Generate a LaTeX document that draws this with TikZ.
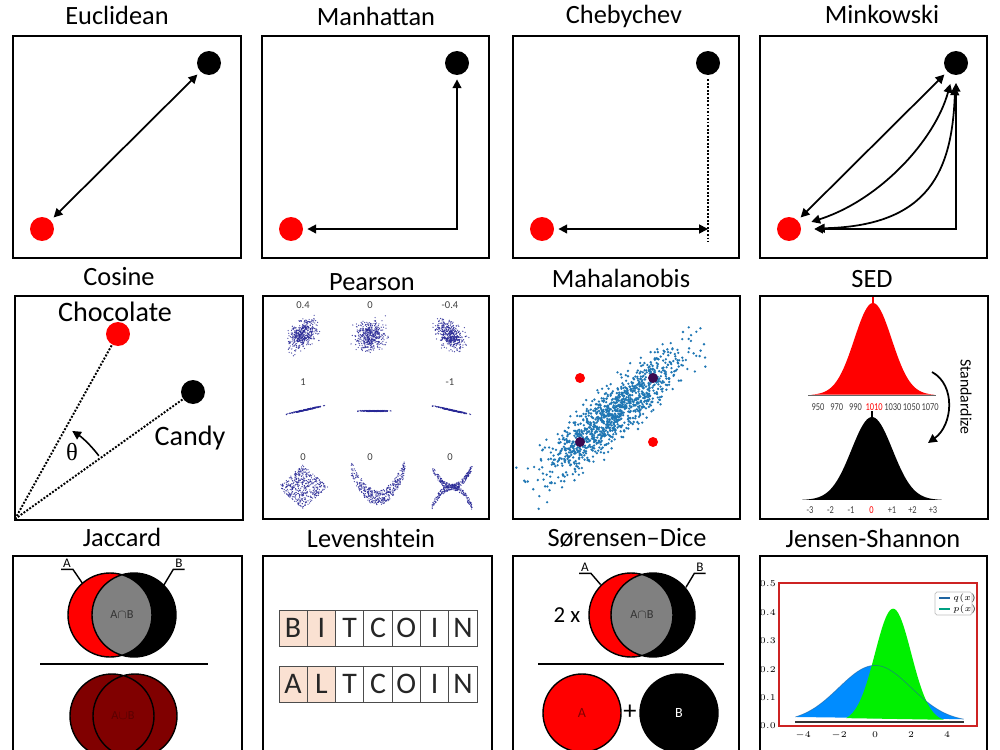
\documentclass[tikz,border=0pt]{standalone}
\usepackage{fontspec}
\setmainfont{Carlito}
\newfontfamily\thetafont{Liberation Serif}
\usetikzlibrary{arrows.meta}
\definecolor{mahablue}{RGB}{31,119,180}
\definecolor{mahapurple}{RGB}{60,10,80}
\definecolor{pearblue}{RGB}{40,40,150}
\definecolor{darkred}{RGB}{128,0,0}
\definecolor{peach}{RGB}{250,225,210}
\definecolor{jsblue}{RGB}{0,140,255}
\definecolor{jsgreen}{RGB}{0,240,0}
\definecolor{jsframe}{RGB}{205,35,35}
\definecolor{qline}{RGB}{31,100,160}
\definecolor{pline}{RGB}{0,160,130}

\begin{document}
\begin{tikzpicture}[x=0.02cm, y=-0.02cm,
    panel/.style={draw, line width=1.1pt},
    paneltitle/.style={font=\fontsize{15}{18}\selectfont, anchor=base},
    ptdot/.style={circle, inner sep=0pt, minimum size=0.48cm, outer sep=2.5pt},
    blackdot/.style={ptdot, fill=black},
    reddot/.style={ptdot, fill=red},
    mahadot/.style={circle, inner sep=0pt, minimum size=0.2cm},
    twoway/.style={line width=1pt, {Triangle[length=5pt,width=5pt]}-{Triangle[length=5pt,width=5pt]}},
    oneway/.style={line width=1pt, -{Triangle[length=5pt,width=5pt]}},
    dotline/.style={line width=1.1pt, dash pattern=on 1.1pt off 0.9pt},
    bigword/.style={font=\fontsize{16}{19}\selectfont},
    pearlabel/.style={font=\fontsize{6}{7}\selectfont, text=black!75},
    pearpt/.style={fill=pearblue, opacity=.85},
    sedtick/.style={font=\fontsize{6}{7}\selectfont, text=black!75, inner sep=0pt, xscale=.8},
    setlabel/.style={font=\fontsize{7.5}{9}\selectfont, inner sep=1pt},
    vennline/.style={line width=0.8pt},
    levcell/.style={draw=black!70, line width=0.5pt, minimum width=0.566cm, minimum height=0.72cm, inner sep=0pt, font=\fontsize{17}{20}\selectfont, text=black!85},
    jstick/.style={font=\fontsize{4}{5}\selectfont, inner sep=0.5pt}]

    \path[use as bounding box, fill=white] (0,0) rectangle (1000,750);
    \pgfmathsetseed{7}

    \draw[panel] (13,36) rectangle (241,258);
    \draw[panel] (262,36) rectangle (489,258);
    \draw[panel] (513,36) rectangle (739,258);
    \draw[panel] (760,36) rectangle (987,258);
    \draw[panel] (15,296) rectangle (243,520);
    \draw[panel] (263,296) rectangle (489,519);
    \draw[panel] (513,296) rectangle (740,519);
    \draw[panel] (760,296) rectangle (988,519);
    \draw[panel] (13,556) rectangle (242,760);
    \draw[panel] (263,556) rectangle (492,760);
    \draw[panel] (513,556) rectangle (739,760);
    \draw[panel] (760,556) rectangle (987,760);

    \node[paneltitle] (tEuc) at (117,25) {Euclidean};
    \node[paneltitle] (tMan) at (376,26) {Manhattan};
    \node[paneltitle] (tChe) at (624,24) {Chebychev};
    \node[paneltitle] (tMin) at (882,24) {Minkowski};
    \node[paneltitle] (tCos) at (119,285) {Cosine};
    \node[paneltitle] (tPea) at (372,290) {Pearson};
    \node[paneltitle] (tMah) at (621,287) {Mahalanobis};
    \node[paneltitle] (tSed) at (872,287) {SED};
    \node[paneltitle] (tJac) at (122,546) {Jaccard};
    \node[paneltitle] (tLev) at (371,547) {Levenshtein};
    \node[paneltitle] (tSor) at (627,546) {Sørensen–Dice};
    \node[paneltitle] (tJen) at (873,547) {Jensen-Shannon};

    \node[blackdot] (eucB) at (209,63) {};
    \node[reddot] (eucR) at (42,229) {};
    \draw[twoway] (eucR) -- (eucB);

    \node[blackdot] (manB) at (457,63) {};
    \node[reddot] (manR) at (291,229) {};
    \draw[twoway] (manR) -| (manB);

    \node[blackdot] (cheB) at (708,63) {};
    \node[reddot] (cheR) at (542,229) {};
    \coordinate (cheC) at (708,242);
    \draw[dotline] (cheB) -- (cheC);
    \draw[twoway] (cheR) -- (cheR -| cheC);

    \node[blackdot] (minB) at (956,63) {};
    \node[reddot] (minR) at (789,229) {};
    \draw[twoway] (minR) -- (minB);
    \draw[twoway, shorten <=4pt, shorten >=3pt] (minR) .. controls (880,200) and (935,140) .. (minB);
    \draw[twoway, shorten <=6pt, shorten >=4pt] (minR) .. controls (930,226) and (952,170) .. (minB);
    \draw[twoway, shorten <=5pt, shorten >=2pt] (minR) -| (minB);

    \coordinate (cosO) at (15,519);
    \node[reddot, outer sep=0pt] (cosR) at (118,334) {};
    \node[blackdot, outer sep=0pt] (cosB) at (193,392) {};
    \node[bigword] (cosRL) at (115,312) {Chocolate};
    \node[bigword, anchor=base] (cosBL) at (190,445) {Candy};
    \draw[dotline] (cosO) -- (cosR);
    \draw[dotline] (cosO) -- (cosB);
    \draw[oneway, line width=0.9pt] ([shift={(-37:105)}]cosO) arc[start angle=-37, end angle=-57, radius=105];
    \node[font={\thetafont\fontsize{14}{16}\selectfont}] (cosT) at (72,452) {θ};

    \node[pearlabel] (peaL1) at (303,305) {0.4};
    \node[pearlabel] (peaL2) at (370,305) {0};
    \node[pearlabel] (peaL3) at (450,305) {-0.4};
    \node[pearlabel] (peaL4) at (303,382) {1};
    \node[pearlabel] (peaL5) at (450,382) {-1};
    \node[pearlabel] (peaL6) at (303,457) {0};
    \node[pearlabel] (peaL7) at (370,457) {0};
    \node[pearlabel] (peaL8) at (450,457) {0};
    \foreach \i in {1,...,450}{
        \pgfmathsetmacro\pa{rand+rand+rand}
        \pgfmathsetmacro\pb{rand+rand+rand}
        \fill[pearpt] ({303+7*(\pa)},{335-7*(0.4*(\pa)+0.92*(\pb))}) circle[radius=0.65];
    }
    \foreach \i in {1,...,450}{
        \pgfmathsetmacro\pa{rand+rand+rand}
        \pgfmathsetmacro\pb{rand+rand+rand}
        \fill[pearpt] ({370+7*(\pa)},{335-7*(\pb)}) circle[radius=0.65];
    }
    \foreach \i in {1,...,450}{
        \pgfmathsetmacro\pa{rand+rand+rand}
        \pgfmathsetmacro\pb{rand+rand+rand}
        \fill[pearpt] ({450+7*(\pa)},{335-7*(-0.4*(\pa)+0.92*(\pb))}) circle[radius=0.65];
    }
    \foreach \i in {1,...,200}{
        \pgfmathsetmacro\pa{rand+rand+rand}
        \pgfmathsetmacro\pb{rand}
        \fill[pearpt] ({305+8*(\pa)},{410-1.8*(\pa)+0.5*(\pb)}) circle[radius=0.65];
        \fill[pearpt] ({374+7*(\pa)},{411+0.5*(\pb)}) circle[radius=0.65];
        \fill[pearpt] ({451+8*(\pa)},{410+1.8*(\pa)+0.5*(\pb)}) circle[radius=0.65];
    }
    \foreach \i in {1,...,450}{
        \pgfmathsetmacro\pa{rand}
        \pgfmathsetmacro\pb{rand}
        \fill[pearpt] ({303+12.5*((\pa)+(\pb))},{487+11*((\pa)-(\pb))}) circle[radius=0.65];
    }
    \foreach \i in {1,...,420}{
        \pgfmathsetmacro\pa{rand}
        \pgfmathsetmacro\pb{rnd}
        \fill[pearpt] ({378+27*(\pa)},{505-30*(\pa)*(\pa)-15*(\pb)}) circle[radius=0.65];
    }
    \foreach \s in {1,-1}{
        \foreach \i in {1,...,220}{
            \pgfmathsetmacro\pa{rand}
            \pgfmathsetmacro\pb{rand}
            \fill[pearpt] ({452+20*(\pa)},{487+(\s)*20*(\pa)*(\pa)+3*(\pb)}) circle[radius=0.65];
        }
    }

    \begin{scope}
        \clip (513,296) rectangle (740,519);
        \foreach \i in {1,...,1100}{
            \pgfmathsetmacro\ma{rand+rand+rand}
            \pgfmathsetmacro\mb{rand+rand+rand}
            \fill[mahablue] ({615+33.4*(\ma)+7.4*(\mb)},{412-30.1*(\ma)+8.2*(\mb)}) circle[radius=1.3];
        }
    \end{scope}
    \node[mahadot, fill=red] (mahR1) at (580,378) {};
    \node[mahadot, fill=red] (mahR2) at (653,442) {};
    \node[mahadot, fill=mahapurple] (mahP1) at (653,378) {};
    \node[mahadot, fill=mahapurple] (mahP2) at (580,442) {};

    \fill[red] plot[domain=-3.3:3.3, samples=70] ({873+18.7*\x},{395-92*exp(-((\x)*(\x))/2)}) -- cycle;
    \draw[black!60, line width=0.5pt] (808,395) -- (936,395);
    \draw[red, line width=0.6pt] (873,297) -- (873,305);
    \foreach \v/\c [count=\i from 0] in {950/black!75,970/black!75,990/black!75,1010/red,1030/black!75,1050/black!75,1070/black!75}
        \node[sedtick, text=\c] (sedR\i) at ({818+18.7*\i},407) {\v};
    \fill[black] plot[domain=-3.4:3.4, samples=70] ({872+20.5*\x},{500-83*exp(-((\x)*(\x))/2)}) -- cycle;
    \draw[line width=0.6pt] (872,411) -- (872,418);
    \foreach \v/\c [count=\i from 0] in {-3/black!75,-2/black!75,-1/black!75,0/red,+1/black!75,+2/black!75,+3/black!75}
        \node[sedtick, text=\c] (sedB\i) at ({810+20.5*\i},510) {\v};
    \node[rotate=-90, font=\fontsize{9}{10}\selectfont] (sedS) at (966,397) {Standardize};
    \coordinate (sedA1) at (932,372);
    \coordinate (sedA2) at (928,443);
    \draw[oneway] (sedA1) .. controls (956,385) and (953,425) .. (sedA2);

    \coordinate (jacA) at (110,615);
    \coordinate (jacB) at (134,615);
    \fill[red] (jacA) circle[radius=42];
    \fill[black] (jacB) circle[radius=42];
    \begin{scope}
        \clip (jacA) circle[radius=42];
        \fill[black!50] (jacB) circle[radius=42];
    \end{scope}
    \draw[vennline] (jacA) circle[radius=42] (jacB) circle[radius=42];
    \node[font=\fontsize{7}{8}\selectfont, text=black!80] (jacI) at (122,615) {A$\cap$B};
    \node[setlabel] (jacLA) at (67,563) {A};
    \node[setlabel] (jacLB) at (179,563) {B};
    \draw[vennline] (jacLA.south west) -- (jacLA.south east) -- ([shift={(-131:42)}]jacA);
    \draw[vennline] (jacLB.south east) -- (jacLB.south west) -- ([shift={(-45:42)}]jacB);
    \draw[line width=1pt] (40,664) -- (208,664);
    \coordinate (jacC) at (112,716);
    \coordinate (jacD) at (135,716);
    \fill[darkred] (jacC) circle[radius=42] (jacD) circle[radius=42];
    \draw[vennline] (jacC) circle[radius=42] (jacD) circle[radius=42];
    \node[font=\fontsize{7}{8}\selectfont, text={rgb,255:red,90;green,0;blue,0}] (jacU) at (123,716) {A$\cup$B};

    \foreach \ch/\f [count=\i from 0] in {B/peach,I/peach,T/white,C/white,O/white,I/white,N/white}
        \node[levcell, fill=\f] (levA\i) at ({293.1+28.3*\i},628) {\ch};
    \foreach \ch/\f [count=\i from 0] in {A/peach,L/peach,T/white,C/white,O/white,I/white,N/white}
        \node[levcell, fill=\f] (levB\i) at ({293.1+28.3*\i},684) {\ch};

    \coordinate (sorA) at (631,615);
    \coordinate (sorB) at (653,615);
    \fill[red] (sorA) circle[radius=42];
    \fill[black] (sorB) circle[radius=42];
    \begin{scope}
        \clip (sorA) circle[radius=42];
        \fill[black!50] (sorB) circle[radius=42];
    \end{scope}
    \draw[vennline] (sorA) circle[radius=42] (sorB) circle[radius=42];
    \node[font=\fontsize{7}{8}\selectfont, text=black!80] (sorI) at (642,615) {A$\cap$B};
    \node[setlabel] (sorLA) at (585,567) {A};
    \node[setlabel] (sorLB) at (700,567) {B};
    \draw[vennline] (sorLA.south west) -- (sorLA.south east) -- ([shift={(-135:43)}]sorA);
    \draw[vennline] (sorLB.south east) -- (sorLB.south west) -- ([shift={(-40:43)}]sorB);
    \node[font=\fontsize{13}{15}\selectfont] (sorX) at (567,615) {2 x};
    \draw[line width=1pt] (538,664) -- (724,664);
    \coordinate (sorC) at (582,713);
    \coordinate (sorD) at (679,713);
    \fill[red] (sorC) circle[radius=39];
    \fill[black] (sorD) circle[radius=39];
    \draw[vennline] (sorC) circle[radius=39] (sorD) circle[radius=39];
    \node[font=\fontsize{8}{9}\selectfont, text=darkred] (sorCA) at (582,713) {A};
    \node[font=\fontsize{8}{9}\selectfont, text=white] (sorDB) at (679,713) {B};
    \node[font=\fontsize{15}{17}\selectfont] (sorP) at (630,712) {+};

    \fill[jsblue] plot[domain=-4.4:4.9, samples=80] ({875+18.1*\x},{722-56.6*exp(-((\x)*(\x))/8)}) -- cycle;
    \fill[jsgreen] plot[domain=-1.6:3.8, samples=80] ({875+18.1*\x},{722-113.3*exp(-((\x-1)*(\x-1))/2)}) -- cycle;
    \draw[qline, line width=0.4pt, opacity=.6] plot[domain=-4.4:4.9, samples=80] ({875+18.1*\x},{722-56.6*exp(-((\x)*(\x))/8)});
    \draw[black!80, line width=0.6pt] (795,722) -- (964,722);
    \draw[jsframe, line width=0.9pt] (779,583) rectangle (977,726);
    \foreach \v [count=\i from 0] in {0.0,0.1,0.2,0.3,0.4,0.5}
        \node[jstick, anchor=east] (jsY\i) at (777,{726-28.4*\i}) {$\v$};
    \foreach \v/\p [count=\i] in {-4/803,-2/839,0/875,2/911,4/947}
        \node[jstick] (jsX\i) at (\p,735) {$\v$};
    \draw[black!25, rounded corners=1pt, line width=0.4pt] (935,592) rectangle (972,615);
    \draw[qline, line width=0.6pt] (939,598) -- (950,598);
    \draw[pline, line width=0.6pt] (939,609) -- (950,609);
    \node[jstick, anchor=west] (jsQ) at (952,598) {$q(x)$};
    \node[jstick, anchor=west] (jsP) at (952,609) {$p(x)$};
\end{tikzpicture}
\end{document}
